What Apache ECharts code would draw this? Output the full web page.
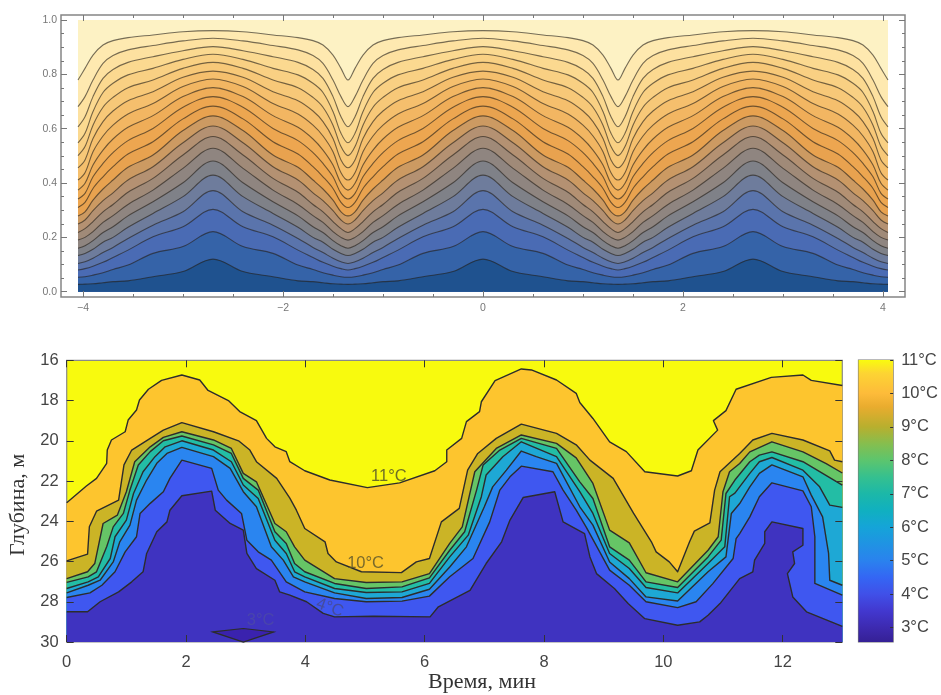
<!DOCTYPE html>
<html><head><meta charset="utf-8">
<script src="https://cdn.jsdelivr.net/npm/echarts@6/dist/echarts.min.js"></script>
<style>html,body{margin:0;padding:0;background:#fff}#c{width:941px;height:695px}</style></head>
<body><div id="c"></div>
<script>
// ---------- upper panel: contour heights ----------
const topX=[-4.05,-3.98,-3.9,-3.8,-3.7,-3.55,-3.3,-3,-2.7,-2.4,-2.1,-1.85,-1.7,-1.6,-1.5,-1.42,-1.35,-1.28,-1.2,-1.1,-1,-.85,-.6,-.3,0,.3,.6,.85,1,1.1,1.2,1.28,1.35,1.42,1.5,1.6,1.7,1.85,2.1,2.4,2.7,3,3.3,3.55,3.7,3.8,3.9,3.98,4.05];
const topLine01=[.779,.822,.871,.908,.924,.935,.945,.957,.961,.957,.945,.935,.924,.908,.871,.822,.779,.822,.871,.908,.924,.935,.945,.957,.961,.957,.945,.935,.924,.908,.871,.822,.779,.822,.871,.908,.924,.935,.945,.957,.961,.957,.945,.935,.924,.908,.871,.822,.779];
const topLine02=[.681,.718,.779,.840,.869,.890,.906,.923,.933,.923,.906,.890,.869,.840,.779,.718,.681,.718,.779,.840,.869,.890,.906,.923,.933,.923,.906,.890,.869,.840,.779,.718,.681,.718,.779,.840,.869,.890,.906,.923,.933,.923,.906,.890,.869,.840,.779,.718,.681];
const topLine03=[.607,.644,.718,.785,.818,.844,.865,.887,.902,.887,.865,.844,.818,.785,.718,.644,.607,.644,.718,.785,.818,.844,.865,.887,.902,.887,.865,.844,.818,.785,.718,.644,.607,.644,.718,.785,.818,.844,.865,.887,.902,.887,.865,.844,.818,.785,.718,.644,.607];
const topLine04=[.548,.583,.663,.733,.767,.798,.822,.855,.874,.855,.822,.798,.767,.733,.663,.583,.548,.583,.663,.733,.767,.798,.822,.855,.874,.855,.822,.798,.767,.733,.663,.583,.548,.583,.663,.733,.767,.798,.822,.855,.874,.855,.822,.798,.767,.733,.663,.583,.548];
const topLine05=[.501,.534,.613,.679,.715,.751,.779,.822,.844,.822,.779,.751,.715,.679,.613,.534,.501,.534,.613,.679,.715,.751,.779,.822,.844,.822,.779,.751,.715,.679,.613,.534,.501,.534,.613,.679,.715,.751,.779,.822,.844,.822,.779,.751,.715,.679,.613,.534,.501];
const topLine06=[.456,.485,.564,.626,.665,.703,.736,.789,.812,.789,.736,.703,.665,.626,.564,.485,.456,.485,.564,.626,.665,.703,.736,.789,.812,.789,.736,.703,.665,.626,.564,.485,.456,.485,.564,.626,.665,.703,.736,.789,.812,.789,.736,.703,.665,.626,.564,.485,.456];
const topLine07=[.411,.438,.515,.573,.613,.654,.693,.755,.783,.755,.693,.654,.613,.573,.515,.438,.411,.438,.515,.573,.613,.654,.693,.755,.783,.755,.693,.654,.613,.573,.515,.438,.411,.438,.515,.573,.613,.654,.693,.755,.783,.755,.693,.654,.613,.573,.515,.438,.411];
const topLine08=[.374,.399,.466,.521,.562,.605,.648,.718,.751,.718,.648,.605,.562,.521,.466,.399,.374,.399,.466,.521,.562,.605,.648,.718,.751,.718,.648,.605,.562,.521,.466,.399,.374,.399,.466,.521,.562,.605,.648,.718,.751,.718,.648,.605,.562,.521,.466,.399,.374];
const topLine09=[.341,.362,.423,.472,.512,.556,.601,.679,.718,.679,.601,.556,.512,.472,.423,.362,.341,.362,.423,.472,.512,.556,.601,.679,.718,.679,.601,.556,.512,.472,.423,.362,.341,.362,.423,.472,.512,.556,.601,.679,.718,.679,.601,.556,.512,.472,.423,.362,.341];
const topLine10=[.310,.329,.380,.423,.460,.507,.552,.636,.683,.636,.552,.507,.460,.423,.380,.329,.310,.329,.380,.423,.460,.507,.552,.636,.683,.636,.552,.507,.460,.423,.380,.329,.310,.329,.380,.423,.460,.507,.552,.636,.683,.636,.552,.507,.460,.423,.380,.329,.310];
const topLine11=[.279,.294,.337,.378,.411,.458,.503,.593,.647,.593,.503,.458,.411,.378,.337,.294,.279,.294,.337,.378,.411,.458,.503,.593,.647,.593,.503,.458,.411,.378,.337,.294,.279,.294,.337,.378,.411,.458,.503,.593,.647,.593,.503,.458,.411,.378,.337,.294,.279];
const topLine12=[.249,.264,.298,.335,.364,.411,.460,.548,.610,.548,.460,.411,.364,.335,.298,.264,.249,.264,.298,.335,.364,.411,.460,.548,.610,.548,.460,.411,.364,.335,.298,.264,.249,.264,.298,.335,.364,.411,.460,.548,.610,.548,.460,.411,.364,.335,.298,.264,.249];
const topLine13=[.218,.232,.258,.294,.321,.366,.417,.503,.571,.503,.417,.366,.321,.294,.258,.232,.218,.232,.258,.294,.321,.366,.417,.503,.571,.503,.417,.366,.321,.294,.258,.232,.218,.232,.258,.294,.321,.366,.417,.503,.571,.503,.417,.366,.321,.294,.258,.232,.218];
const topLine14=[.190,.200,.221,.255,.280,.321,.374,.454,.528,.454,.374,.321,.280,.255,.221,.200,.190,.200,.221,.255,.280,.321,.374,.454,.528,.454,.374,.321,.280,.255,.221,.200,.190,.200,.221,.255,.280,.321,.374,.454,.528,.454,.374,.321,.280,.255,.221,.200,.190];
const topLine15=[.160,.169,.188,.218,.239,.279,.331,.401,.481,.401,.331,.279,.239,.218,.188,.169,.160,.169,.188,.218,.239,.279,.331,.401,.481,.401,.331,.279,.239,.218,.188,.169,.160,.169,.188,.218,.239,.279,.331,.401,.481,.401,.331,.279,.239,.218,.188,.169,.160];
const topLine16=[.133,.141,.156,.182,.200,.237,.288,.350,.429,.350,.288,.237,.200,.182,.156,.141,.133,.141,.156,.182,.200,.237,.288,.350,.429,.350,.288,.237,.200,.182,.156,.141,.133,.141,.156,.182,.200,.237,.288,.350,.429,.350,.288,.237,.200,.182,.156,.141,.133];
const topLine17=[.104,.110,.123,.144,.163,.196,.245,.294,.372,.294,.245,.196,.163,.144,.123,.110,.104,.110,.123,.144,.163,.196,.245,.294,.372,.294,.245,.196,.163,.144,.123,.110,.104,.110,.123,.144,.163,.196,.245,.294,.372,.294,.245,.196,.163,.144,.123,.110,.104];
const topLine18=[.080,.085,.094,.108,.126,.153,.202,.239,.303,.239,.202,.153,.126,.108,.094,.085,.080,.085,.094,.108,.126,.153,.202,.239,.303,.239,.202,.153,.126,.108,.094,.085,.080,.085,.094,.108,.126,.153,.202,.239,.303,.239,.202,.153,.126,.108,.094,.085,.080];
const topLine19=[.053,.055,.061,.070,.082,.098,.141,.166,.221,.166,.141,.098,.082,.070,.061,.055,.053,.055,.061,.070,.082,.098,.141,.166,.221,.166,.141,.098,.082,.070,.061,.055,.053,.055,.061,.070,.082,.098,.141,.166,.221,.166,.141,.098,.082,.070,.061,.055,.053];
const topLine20=[.027,.028,.029,.033,.037,.040,.055,.074,.120,.074,.055,.040,.037,.033,.029,.028,.027,.028,.029,.033,.037,.040,.055,.074,.120,.074,.055,.040,.037,.033,.029,.028,.027,.028,.029,.033,.037,.040,.055,.074,.120,.074,.055,.040,.037,.033,.029,.028,.027];
const topLines=[topLine01,topLine02,topLine03,topLine04,topLine05,topLine06,topLine07,topLine08,topLine09,topLine10,topLine11,topLine12,topLine13,topLine14,topLine15,topLine16,topLine17,topLine18,topLine19,topLine20];
const topBandColors=['#FEE9B0','#FDE1A0','#FBD990','#F9D083','#F7C878','#F5BF6D','#F2B662','#EFAD58','#EDA650','#E8A24F','#CC9A62','#B49172','#A08A78','#8F8580','#7F8188','#6E7C9C','#5A74AC','#4A6BB4','#3563A8','#1F528F'];
const topCeiling=[[-4.05,1],[4.05,1]];
const topTicksXMajor=[-4,-2,0,2,4];
const topTicksXMinor=[-4,-3.5,-3,-2.5,-2,-1.5,-1,-.5,0,.5,1,1.5,2,2.5,3,3.5,4];
const topTicksYMajor=[0,.2,.4,.6,.8,1];
const topTicksYMinor=[0,.05,.1,.15,.2,.25,.3,.35,.4,.45,.5,.55,.6,.65,.7,.75,.8,.85,.9,.95,1];

// ---------- lower panel: isotherms [time, depth] ----------
const iso11=[[0,23.08],[.33,22.25],[.5,21.87],[.67,21.12],[.68,20.46],[.75,19.96],[.98,19.55],[1.03,18.97],[1.17,18.47],[1.22,17.97],[1.37,17.44],[1.59,17],[1.93,16.73],[2.23,16.98],[2.37,17.5],[2.71,18],[2.9,18.55],[3.18,19],[3.35,19.88],[3.49,20.3],[3.68,20.54],[3.74,21.04],[3.99,21.49],[4.41,21.95],[5.04,22.33],[5.58,22.09],[6.17,21.49],[6.37,21.04],[6.37,20.46],[6.62,19.88],[6.7,19.05],[6.92,18.55],[6.95,18.06],[7.18,17.01],[7.62,16.43],[7.79,16.48],[8.21,16.98],[8.54,17.64],[8.6,18.1],[8.82,18.89],[9.1,20.05],[9.38,20.54],[9.69,21.54],[10.24,21.75],[10.47,21.49],[10.58,20.46],[10.91,19.47],[10.84,19],[11.05,18.5],[11.22,17.44],[11.81,16.85],[12.34,16.73],[12.48,17],[13,17.25]];
const iso10=[[0,25.97],[.35,25.63],[.38,24.27],[.5,23.5],[.87,22.95],[.96,21.2],[1.09,20.46],[1.4,19.88],[1.62,19.47],[1.93,19.1],[2.46,19.55],[2.88,20],[3.07,20.46],[3.18,21.04],[3.52,21.87],[3.74,22.85],[3.85,23.45],[3.99,24.36],[4.33,25.02],[4.38,25.6],[4.52,26.02],[4.94,26.51],[5.61,26.55],[5.86,26.02],[6.08,25.85],[6.28,24.03],[6.58,23.36],[6.72,21.46],[6.89,20.63],[7.2,19.88],[7.62,19.17],[8.21,19.63],[8.54,20.2],[8.77,20.96],[9.16,21.87],[9.5,23.6],[9.8,25.02],[9.88,25.52],[10.1,26.02],[10.24,26.51],[10.44,25.02],[10.52,24.49],[10.78,24.08],[10.86,22.45],[10.95,21.54],[11.28,20.63],[11.5,19.96],[11.82,19.63],[12.34,19.96],[12.79,20.5],[12.87,20.96],[13,21.04]];
const iso9=[[0,26.85],[.35,26.51],[.47,26.1],[.61,24.11],[.85,23.69],[1,22.53],[1.14,21.04],[1.4,20.3],[1.62,19.83],[1.93,19.55],[2.46,19.96],[2.76,20.38],[2.96,21.62],[3.18,22.04],[3.49,24.11],[3.68,24.52],[3.82,25.27],[3.99,25.93],[4.49,26.85],[5.02,27.04],[5.62,27.01],[6.08,26.6],[6.42,25.1],[6.63,24.28],[6.84,21.54],[7.2,20.38],[7.62,19.71],[8.21,20.13],[8.54,20.85],[8.82,22.12],[9.1,24.44],[9.43,25.07],[9.71,26.56],[10.24,27.01],[10.75,25.44],[10.92,24.77],[11,22.53],[11.11,21.54],[11.28,21.13],[11.45,20.55],[11.82,20.05],[12.34,20.55],[12.73,21.13],[13,21.6]];
const iso8=[[0,27.04],[.36,26.76],[.5,26.51],[.67,25.27],[.78,24.28],[.95,23.61],[1.06,22.45],[1.2,21.2],[1.4,20.54],[1.62,20],[1.93,19.76],[2.46,20.2],[2.76,20.63],[2.96,21.87],[3.21,22.45],[3.49,24.52],[3.68,25.1],[3.82,26.1],[3.99,26.51],[4.49,27.09],[5.02,27.34],[5.62,27.26],[6.08,26.81],[6.42,25.44],[6.67,24.52],[6.87,22.45],[6.98,21.2],[7.26,20.46],[7.62,19.88],[8.21,20.38],[8.6,22.04],[8.82,22.87],[9.1,25.27],[9.43,25.93],[9.71,27.01],[10.24,27.29],[10.75,25.77],[10.97,24.94],[11.05,22.62],[11.2,21.95],[11.45,21.04],[11.61,20.71],[11.82,20.55],[12.34,21.04],[12.67,21.62],[13,22.2]];
const iso7=[[0,27.34],[.36,27.01],[.53,26.76],[.73,25.85],[.81,24.77],[1,23.94],[1.12,22.62],[1.28,21.54],[1.48,20.79],[1.65,20.3],[1.93,20],[2.46,20.46],[2.76,21.04],[2.96,22.2],[3.21,22.87],[3.49,24.94],[3.68,25.6],[3.82,26.51],[3.99,26.76],[4.49,27.34],[5.02,27.54],[5.62,27.51],[6.08,27.09],[6.42,25.77],[6.73,24.69],[6.95,22.78],[7.03,21.7],[7.31,20.79],[7.62,20.05],[8.21,20.79],[8.6,22.53],[8.82,23.61],[9.1,25.6],[9.43,26.35],[9.71,27.29],[10.24,27.56],[10.75,26.1],[11.03,25.27],[11.11,22.78],[11.2,22.6],[11.45,21.62],[11.61,21.04],[11.82,20.83],[12.34,21.46],[12.62,22.29],[12.79,23.2],[13,23.31]];
const iso6=[[0,27.56],[.36,27.18],[.56,26.93],[.78,26.02],[.89,25.02],[1.06,24.19],[1.17,22.95],[1.34,21.95],[1.51,21.12],[1.68,20.63],[1.93,20.33],[2.46,20.79],[2.74,21.37],[2.96,22.53],[3.18,23.28],[3.43,25.27],[3.63,25.93],[3.8,26.76],[3.99,27.01],[4.49,27.56],[5.02,27.84],[5.62,27.79],[6.08,27.38],[6.42,26.27],[6.7,25.27],[7,23.28],[7.14,22.29],[7.37,21.46],[7.62,20.51],[7.87,20.79],[8.21,21.12],[8.6,23.28],[8.82,24.19],[9.1,26.02],[9.43,26.85],[9.71,27.76],[10.24,27.96],[10.75,26.51],[11.05,25.77],[11.14,23.61],[11.28,23.12],[11.45,22.29],[11.61,21.62],[11.82,21.2],[12.34,21.79],[12.48,22.7],[12.67,23.78],[12.77,25.6],[12.79,26.93],[13,27.18]];
const iso5=[[0,27.79],[.39,27.56],[.59,27.18],[.81,26.51],[.98,25.52],[1.17,24.77],[1.23,23.61],[1.4,23.11],[1.62,22.53],[1.73,21.87],[1.93,20.96],[2.43,21.37],[2.54,22.45],[2.68,22.95],[2.93,23.61],[3.02,24.94],[3.21,25.52],[3.43,25.93],[3.68,27.01],[3.99,27.51],[4.49,27.84],[5.02,28],[5.62,27.97],[6.08,27.72],[6.42,26.76],[6.81,25.85],[7.09,24.03],[7.26,22.45],[7.43,21.79],[7.62,21.26],[8.15,21.54],[8.32,22.45],[8.54,23.45],[8.71,24.3],[9.1,26.43],[9.43,27.18],[9.71,28],[10.24,28.29],[10.55,28],[10.83,27.1],[11.17,25.85],[11.22,24.86],[11.28,24.61],[11.45,23.78],[11.61,22.78],[11.82,22.09],[12.34,22.49],[12.48,23.28],[12.54,24.77],[12.54,27.09],[13,27.67]];
const iso4=[[0,28.5],[.35,28.5],[.56,28],[.87,27.51],[1.09,27.01],[1.28,26.51],[1.34,25.6],[1.51,24.52],[1.68,24.03],[1.73,23.45],[1.93,22.73],[2.43,22.5],[2.49,23.45],[2.74,24.11],[2.96,24.44],[3.02,25.6],[3.18,26.35],[3.49,26.93],[3.57,27.51],[3.74,27.67],[4.02,28],[4.3,28.58],[4.49,28.75],[5.14,28.72],[6.09,28.75],[6.23,28.25],[6.76,27.43],[7.03,26.1],[7.29,25.02],[7.43,23.94],[7.65,22.82],[8.18,22.53],[8.32,24.03],[8.68,24.61],[8.77,25.77],[8.88,26.6],[9.18,27.34],[9.41,28.09],[9.69,28.84],[10.24,29.17],[10.61,29],[10.75,28.67],[10.95,28.09],[11.28,26.85],[11.5,26.51],[11.53,25.93],[11.7,25.1],[11.7,24.52],[11.82,24.03],[12.34,24.36],[12.34,25.19],[12.17,25.52],[12.2,26.1],[12.08,26.6],[12.17,27.76],[12.4,28.5],[13,29.22]];
const iso3=[[2.45,29.5],[2.96,29.33],[3.47,29.5],[2.96,30]];
const isotherms=[iso11,iso10,iso9,iso8,iso7,iso6,iso5,iso4];
const isoBandColors=['#FDC52E','#CBB426','#66C566','#23BDA5','#1EA8D5','#2A85F0','#3F57F0','#3F33C0'];
const coldestColor='#3A22AE';
const warmestColor='#F8FA0E';
const isoLabels=[{t:5.4,d:21.76,text:'11°C',color:'#4b4b2a',rot:0},{t:5.01,d:26.1,text:'10°C',color:'#57522a',rot:0},{t:4.41,d:28.3,text:'4°C',color:'#474a86',rot:-20},{t:3.25,d:28.95,text:'3°C',color:'#4c4aa6',rot:0}];
const lowTicksX=[0,2,4,6,8,10,12];
const lowTicksY=[16,18,20,22,24,26,28,30];
const barTicks=[3,4,5,6,7,8,9,10,11];
const barStops=[[11,'#F9FB0E'],[10.6,'#FDD433'],[10,'#FDBB3A'],[9.6,'#E9AC2E'],[9,'#B8AF2E'],[8.5,'#86BE4E'],[8,'#5CC56E'],[7.5,'#35C08F'],[7,'#1CB8A8'],[6.5,'#10B0C0'],[6,'#15A4D8'],[5,'#2A82EE'],[4.5,'#3466F4'],[4,'#4050E8'],[3.5,'#4238CF'],[3,'#3D2AB0'],[2.57,'#352095']];

const TOP={left:61,top:15,width:844,height:282,xMin:-4.22,xMax:4.22,yMin:-0.0195,yMax:1.0184};
const LOW={left:66.7,top:360.3,width:775.6,height:281.7};
const BAR={left:858.5,top:360,width:35.5,height:282,min:2.57,max:11};
const topTickColor='#777', lowTickColor='#333';

function tickAxis(grid,pos,min,max,ticks,len,color,extra){
  return Object.assign({type:'value',gridIndex:grid,position:pos,min,max,z:6,splitLine:{show:false},
    axisLine:{show:false,onZero:false},axisLabel:{show:false},
    axisTick:{show:true,inside:true,length:len,customValues:ticks,lineStyle:{color,width:1}}},extra||{});
}
const xAxes=[],yAxes=[];
// upper
xAxes.push(tickAxis(0,'bottom',TOP.xMin,TOP.xMax,topTicksXMajor,6,topTickColor,{
  axisLabel:{show:true,customValues:topTicksXMajor,color:'#777',fontFamily:'Liberation Sans',fontSize:10.5,margin:6,formatter:v=>String(v).replace('-','−')}}));
xAxes.push(tickAxis(0,'bottom',TOP.xMin,TOP.xMax,topTicksXMinor,3,topTickColor));
xAxes.push(tickAxis(0,'top',TOP.xMin,TOP.xMax,topTicksXMajor,6,topTickColor));
xAxes.push(tickAxis(0,'top',TOP.xMin,TOP.xMax,topTicksXMinor,3,topTickColor));
yAxes.push(tickAxis(0,'left',TOP.yMin,TOP.yMax,topTicksYMajor,6,topTickColor,{
  axisLabel:{show:true,customValues:topTicksYMajor,color:'#777',fontFamily:'Liberation Sans',fontSize:10.5,margin:4,formatter:v=>v.toFixed(1)}}));
yAxes.push(tickAxis(0,'left',TOP.yMin,TOP.yMax,topTicksYMinor,3,topTickColor));
yAxes.push(tickAxis(0,'right',TOP.yMin,TOP.yMax,topTicksYMajor,6,topTickColor));
yAxes.push(tickAxis(0,'right',TOP.yMin,TOP.yMax,topTicksYMinor,3,topTickColor));
const xLow=xAxes.length,yLow=yAxes.length;
// lower
const lowLabel={show:true,color:'#444',fontFamily:'Liberation Sans',fontSize:16.5};
xAxes.push(tickAxis(1,'bottom',0,13,lowTicksX,7,lowTickColor,{axisLabel:Object.assign({},lowLabel,{customValues:lowTicksX,margin:12})}));
xAxes.push(tickAxis(1,'top',0,13,lowTicksX,7,lowTickColor));
yAxes.push(tickAxis(1,'left',16,30,lowTicksY,7,lowTickColor,{inverse:true,axisLabel:Object.assign({},lowLabel,{customValues:lowTicksY,margin:8,padding:[2,0,0,0]})}));
yAxes.push(tickAxis(1,'right',16,30,lowTicksY,7,lowTickColor,{inverse:true}));
const xBar=xAxes.length,yBar=yAxes.length;
// colour bar
xAxes.push({type:'value',gridIndex:2,min:0,max:1,show:false});
yAxes.push(tickAxis(2,'right',BAR.min,BAR.max,barTicks,3,'#333',{axisLabel:Object.assign({},lowLabel,{customValues:barTicks,margin:8,padding:[4,0,0,0],formatter:'{value}°C'})}));

const series=[];
// upper bands: light ceiling first, then each contour painted downward to value 0
series.push({type:'line',xAxisIndex:0,yAxisIndex:0,data:topCeiling,showSymbol:false,silent:true,lineStyle:{width:0},areaStyle:{color:'#FDF2C4',opacity:1,origin:0}});
topLines.forEach((row,i)=>{
  series.push({type:'line',xAxisIndex:0,yAxisIndex:0,smooth:.35,showSymbol:false,silent:true,
    data:row.map((v,k)=>[topX[k],v]),
    lineStyle:{color:'rgba(35,30,25,.62)',width:1.1},
    areaStyle:{color:topBandColors[i],opacity:1,origin:0}});
});
// lower bands
isotherms.forEach((row,i)=>{
  series.push({type:'line',xAxisIndex:xLow,yAxisIndex:yLow,showSymbol:false,silent:true,data:row,
    lineStyle:{color:'#2c2c2c',width:1.4,join:'round'},
    areaStyle:{color:isoBandColors[i],opacity:1,origin:'end'}});
});
series.push({type:'custom',xAxisIndex:xLow,yAxisIndex:yLow,silent:true,data:[iso3[0]],z:3,
  encode:{x:0,y:1},
  renderItem:(p,api)=>({type:'polygon',shape:{points:iso3.map(q=>api.coord(q))},style:{fill:coldestColor,stroke:'#2c2c2c',lineWidth:1.2}})});
series.push({type:'scatter',xAxisIndex:xLow,yAxisIndex:yLow,symbolSize:0,silent:true,z:4,
  data:isoLabels.map(l=>({value:[l.t,l.d],label:{show:true,position:'inside',formatter:l.text,color:l.color,rotate:l.rot,fontFamily:'Liberation Sans',fontSize:16.5}}))});
// colour bar
series.push({type:'line',xAxisIndex:xBar,yAxisIndex:yBar,showSymbol:false,silent:true,data:[[0,BAR.max],[1,BAR.max]],lineStyle:{width:0},
  areaStyle:{opacity:1,origin:'start',color:{type:'linear',x:0,y:0,x2:0,y2:1,
    colorStops:barStops.map(s=>({offset:(BAR.max-s[0])/(BAR.max-BAR.min),color:s[1]}))}}});

const chart=echarts.init(document.getElementById('c'),null,{renderer:'canvas'});
chart.setOption({
  animation:false,backgroundColor:'#fff',
  grid:[
    {left:TOP.left,top:TOP.top,width:TOP.width,height:TOP.height,show:true,backgroundColor:'#fff',borderColor:'#858585',borderWidth:1.5,containLabel:false},
    {left:LOW.left,top:LOW.top,width:LOW.width,height:LOW.height,show:true,backgroundColor:warmestColor,borderColor:'#8a8a8a',borderWidth:1.2},
    {left:BAR.left,top:BAR.top,width:BAR.width,height:BAR.height,show:true,borderColor:'#777',borderWidth:1.2}
  ],
  xAxis:xAxes,yAxis:yAxes,series,
  graphic:[
    {type:'text',left:428,top:671,style:{text:'Время, мин',font:'22px "Liberation Serif"',fill:'#333'},z:10},
    {type:'text',x:18,y:505,rotation:Math.PI/2,style:{text:'Глубина, м',font:'22px "Liberation Serif"',fill:'#333',align:'center',verticalAlign:'middle'},z:10}
  ]
});
</script></body></html>
